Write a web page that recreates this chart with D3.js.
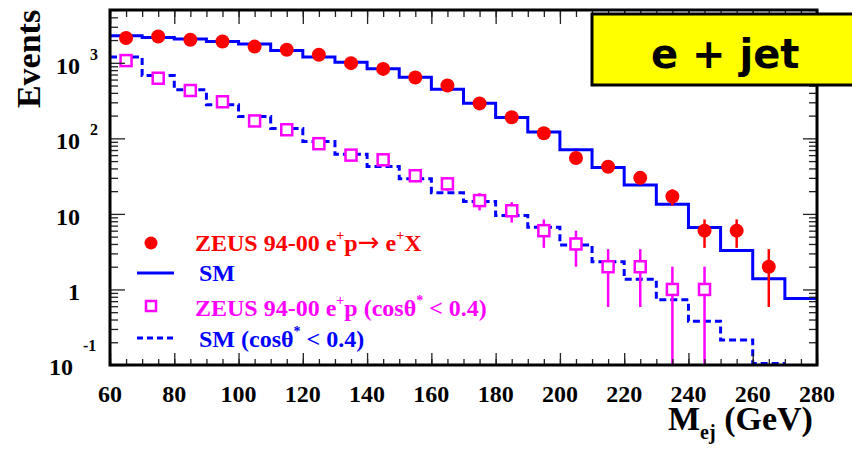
<!DOCTYPE html>
<html>
<head>
<meta charset="utf-8">
<script src="https://cdn.jsdelivr.net/npm/d3@7"></script>
<style>
  body { margin: 0; background: #fff; }
  text { font-family: "Liberation Serif", "Times New Roman", serif; font-weight: bold; }
</style>
</head>
<body>
<svg id="chart" width="852" height="449"></svg>
<script>
// bin edges of the histograms (GeV)
var binEdges = [60, 70, 80, 90, 100, 110, 120, 130, 140, 150, 160, 170, 180, 190, 200, 210, 220, 230, 240, 250, 260, 270, 280];
// SM prediction, all events
var smAll = [2280, 2160, 2060, 1915, 1770, 1455, 1190, 1020, 833, 646, 448, 292, 189, 121, 70.4, 41, 24.2, 13.4, 6.6, 3.27, 1.39, 0.76];
// SM prediction, cos theta* < 0.4
var smCos = [1190, 679, 439, 278, 194, 135, 90.7, 61.7, 42.3, 29.1, 19.1, 14.6, 9.5, 6.67, 3.88, 2.33, 1.36, 0.73, 0.38, 0.214, 0.105];
// ZEUS data, bin centres
var dataMass = [65, 75, 85, 95, 105, 115, 125, 135, 145, 155, 165, 175, 185, 195, 205, 215, 225, 235, 245, 255, 265];
var dataAll = [2130, 2230, 2020, 1910, 1640, 1490, 1280, 990, 830, 640, 500, 290, 190, 117, 55, 42, 30, 17, 6, 6, 2];
var dataCos = [1070, 625, 430, 305, 170, 130, 85, 60, 52, 32, 25, 15, 11, 6, 4, 2, 2, 1, 1];

var xTicks = [60, 80, 100, 120, 140, 160, 180, 200, 220, 240, 260, 280];
var yMajor = [0.1, 1, 10, 100, 1000];
var yLabels = [["10", "-1"], ["1", ""], ["10", ""], ["10", "2"], ["10", "3"]];

var svg = d3.select("#chart");
var x = d3.scaleLinear().domain([60, 280]).range([110, 817]);
var y = d3.scaleLog().domain([0.1, 5000]).range([365, 10]);

var xMinor = d3.range(60, 281, 5);
var yMinor = [];
[0.1, 1, 10, 100, 1000].forEach(function(d){
  for (var k = 2; k <= 9; k++) if (d * k <= 5000) yMinor.push(d * k);
});

svg.append("defs").append("clipPath").attr("id", "plotclip")
  .append("rect").attr("x", 110).attr("y", 10).attr("width", 707).attr("height", 355);

var plot = svg.append("g").attr("clip-path", "url(#plotclip)");

function histPoints(vals) {
  var pts = [];
  vals.forEach(function(v, i){
    pts.push([x(binEdges[i]), y(v)]);
    pts.push([x(binEdges[i + 1]), y(v)]);
  });
  return pts;
}
var line = d3.line();

plot.append("path")
  .attr("d", line(histPoints(smAll)))
  .attr("fill", "none").attr("stroke", "#0000ff").attr("stroke-width", 3);
plot.append("path")
  .attr("d", line(histPoints(smCos)))
  .attr("fill", "none").attr("stroke", "#0000ff").attr("stroke-width", 3)
  .attr("stroke-dasharray", "7,4");

// error bars (Poisson)
function errLo(n){ return Math.max(n - Math.sqrt(n), 0.01); }
function errHi(n){ return n + Math.sqrt(n); }

plot.selectAll("line.errAll").data(dataAll).enter().append("line")
  .attr("class", "errAll")
  .attr("x1", function(d, i){ return x(dataMass[i]); })
  .attr("x2", function(d, i){ return x(dataMass[i]); })
  .attr("y1", function(d){ return y(errLo(d)); })
  .attr("y2", function(d){ return y(errHi(d)); })
  .attr("stroke", "#ff0000").attr("stroke-width", 2.5);

plot.selectAll("line.errCos").data(dataCos).enter().append("line")
  .attr("class", "errCos")
  .attr("x1", function(d, i){ return x(dataMass[i]); })
  .attr("x2", function(d, i){ return x(dataMass[i]); })
  .attr("y1", function(d){ return y(errLo(d)); })
  .attr("y2", function(d){ return y(errHi(d)); })
  .attr("stroke", "#ff00ff").attr("stroke-width", 2.5);

plot.selectAll("circle.pt").data(dataAll).enter().append("circle")
  .attr("class", "pt")
  .attr("cx", function(d, i){ return x(dataMass[i]); })
  .attr("cy", function(d){ return y(d); })
  .attr("r", 7)
  .attr("fill", "#ff0000");

plot.selectAll("rect.sq").data(dataCos).enter().append("rect")
  .attr("class", "sq")
  .attr("x", function(d, i){ return x(dataMass[i]) - 5.5; })
  .attr("y", function(d){ return y(d) - 5.5; })
  .attr("width", 11).attr("height", 11)
  .attr("fill", "#fff").attr("stroke", "#ff00ff").attr("stroke-width", 2.5);

// axes ticks (pointing inwards)
function tickAxis(axis, tx, ty) {
  var g = svg.append("g").attr("transform", "translate(" + tx + "," + ty + ")").call(axis);
  g.select(".domain").remove();
  g.selectAll(".tick line").attr("stroke", "#222").attr("stroke-width", 1.3);
  return g;
}
tickAxis(d3.axisTop(x).tickValues(xMinor).tickSize(6).tickFormat(""), 0, 365);
tickAxis(d3.axisTop(x).tickValues(xTicks).tickSize(12).tickFormat(""), 0, 365);
tickAxis(d3.axisBottom(x).tickValues(xMinor).tickSize(7).tickFormat(""), 0, 10);
tickAxis(d3.axisBottom(x).tickValues(xTicks).tickSize(14).tickFormat(""), 0, 10);
tickAxis(d3.axisRight(y).tickValues(yMinor).tickSize(8).tickFormat(""), 110, 0);
tickAxis(d3.axisRight(y).tickValues(yMajor).tickSize(15).tickFormat(""), 110, 0);
tickAxis(d3.axisLeft(y).tickValues(yMinor).tickSize(8).tickFormat(""), 817, 0);
tickAxis(d3.axisLeft(y).tickValues(yMajor).tickSize(14).tickFormat(""), 817, 0);

// frame
svg.append("rect").attr("x", 110).attr("y", 10).attr("width", 707).attr("height", 355)
  .attr("fill", "none").attr("stroke", "#000").attr("stroke-width", 3);

// x tick labels
svg.selectAll("text.xl").data(xTicks).enter().append("text")
  .attr("class", "xl")
  .attr("x", function(d){ return x(d); })
  .attr("y", 402)
  .attr("text-anchor", "middle")
  .attr("font-size", 24)
  .text(function(d){ return d; });

// y tick labels
yMajor.forEach(function(v, i){
  var lab = yLabels[i];
  if (v === 0.1) {
    svg.append("text").attr("x", 73).attr("y", 375).attr("text-anchor", "end")
      .attr("font-size", 24).text(lab[0]);
    svg.append("text").attr("x", 83).attr("y", 351).attr("font-size", 16).text(lab[1]);
    return;
  }
  svg.append("text").attr("x", 80).attr("y", y(v) + 11).attr("text-anchor", "end")
    .attr("font-size", 24).text(lab[0]);
  if (lab[1]) {
    svg.append("text").attr("x", 90).attr("y", y(v) - 3).attr("font-size", 16).text(lab[1]);
  }
});

// axis titles
svg.append("text").attr("transform", "translate(40,59) rotate(-90)")
  .attr("text-anchor", "middle").attr("font-size", 34).text("Events");

var xt = svg.append("text").attr("x", 668).attr("y", 430).attr("font-size", 34);
xt.append("tspan").text("M");
xt.append("tspan").attr("dy", 9).attr("font-size", 20).text("ej");
xt.append("tspan").attr("dy", -9).text(" (GeV)");

// legend
var leg = svg.append("g");
leg.append("circle").attr("cx", 151).attr("cy", 243).attr("r", 6.5).attr("fill", "#ff0000");
leg.append("line").attr("x1", 137).attr("x2", 174).attr("y1", 273).attr("y2", 273)
  .attr("stroke", "#0000ff").attr("stroke-width", 3);
leg.append("rect").attr("x", 146).attr("y", 301).attr("width", 10).attr("height", 10)
  .attr("fill", "none").attr("stroke", "#ff00ff").attr("stroke-width", 2.5);
leg.append("line").attr("x1", 137).attr("x2", 174).attr("y1", 338).attr("y2", 338)
  .attr("stroke", "#0000ff").attr("stroke-width", 3).attr("stroke-dasharray", "6,4");

function legText(xp, yp, color, parts) {
  var t = leg.append("text").attr("x", xp).attr("y", yp).attr("font-size", 24).attr("fill", color);
  var raised = false;
  parts.forEach(function(p){
    if (p.sup) {
      t.append("tspan").attr("dy", -11).attr("font-size", 14).text(p.sup);
      raised = true;
    } else if (p.arrow) {
      t.append("tspan").attr("dy", raised ? 11 : 0).attr("font-size", 26)
        .style("font-family", "'DejaVu Sans', sans-serif").style("font-weight", "normal")
        .text(p.arrow);
      raised = false;
    } else {
      t.append("tspan").attr("dy", raised ? 11 : 0).attr("font-size", 24).text(p.t);
      raised = false;
    }
  });
}
legText(195, 251, "#ff0000", [{t: "ZEUS 94-00 e"}, {sup: "+"}, {t: "p"}, {arrow: "\u2192"}, {t: " e"}, {sup: "+"}, {t: "X"}]);
legText(199, 281, "#0000ff", [{t: "SM"}]);
legText(195, 316, "#ff00ff", [{t: "ZEUS 94-00 e"}, {sup: "+"}, {t: "p (cos\u03b8"}, {sup: "*"}, {t: " < 0.4)"}]);
legText(199, 347, "#0000ff", [{t: "SM (cos\u03b8"}, {sup: "*"}, {t: " < 0.4)"}]);

// title box
svg.append("rect").attr("x", 592).attr("y", 14).attr("width", 280).attr("height", 71)
  .attr("fill", "#ffff00").attr("stroke", "#000").attr("stroke-width", 3);
svg.append("text").attr("x", 651).attr("y", 68)
  .style("font-family", "'DejaVu Sans', sans-serif").attr("font-size", 40)
  .attr("fill", "#000").attr("xml:space", "preserve").text("e + jet");
</script>
</body>
</html>
